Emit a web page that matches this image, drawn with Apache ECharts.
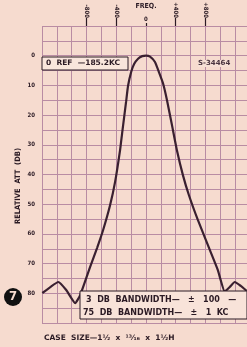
<!DOCTYPE html>
<html>
<head>
<meta charset="utf-8">
<script src="https://cdn.jsdelivr.net/npm/echarts@6/dist/echarts.min.js"></script>
<style>
  html, body { margin: 0; padding: 0; background: #f6dbcf; }
  #chart { width: 247px; height: 347px; }
</style>
</head>
<body>
<div id="chart"></div>
<script>
// frequency offset from 185.2 kc, in cycles
const freqTicks = [-800, -400, 400, 800]
const centerTick = [0]
const dbTicks = [0, 10, 20, 30, 40, 50, 60, 70, 80]

// response curve: [offset (c/s), relative att (dB)]
const responseLeft = [
  [-1396, 79.9], [-1288, 77.9], [-1181, 76.2], [-1074, 78.9], [-953, 83.3],
  [-886, 80.6], [-752, 71.1], [-658, 64.7], [-577, 58.7], [-483, 50.3],
  [-416, 42.5], [-349, 31.8], [-322, 26.2], [-268, 15.5], [-242, 10.2],
  [-200, 5.5], [-160, 2.8], [-107, 1.0], [-50, 0.15]
]
const responseRight = [
  [0, 0], [54, 0.3], [121, 2.1], [174, 5.5], [228, 9.2], [282, 14.9],
  [349, 23.3], [416, 31.8], [497, 40.2], [577, 46.9], [698, 55.3],
  [859, 65.4], [966, 72.1], [1060, 79.4], [1127, 77.9], [1195, 76.2],
  [1275, 77.5], [1356, 79.2]
]

const ink = '#2b1a24'
const gridCol = '#b98ca3'
const font = 'DejaVu Sans Condensed'
const wide = 'DejaVu Sans'

const chart = echarts.init(document.getElementById('chart'))

chart.setOption({
  backgroundColor: '#f6dbcf',
  animation: false,
  grid: { left: 42, top: 26, width: 208, height: 297, outerBoundsMode: 'none' },
  xAxis: [
    {
      type: 'value',
      position: 'top',
      min: -1400,
      max: 1400,
      interval: 200,
      name: 'FREQ.',
      nameLocation: 'middle',
      nameGap: 16,
      nameTextStyle: { color: ink, fontFamily: font, fontWeight: 'bold', fontSize: 7 },
      axisLine: { show: false },
      axisTick: { show: false },
      axisLabel: { show: false },
      splitLine: { show: true, lineStyle: { color: gridCol, width: 1 } }
    },
    {
      type: 'value',
      position: 'top',
      min: -1400,
      max: 1400,
      axisLine: { show: false },
      axisTick: { show: true, customValues: freqTicks, length: 8, lineStyle: { color: ink, width: 1.2 } },
      splitLine: { show: false },
      axisLabel: {
        customValues: freqTicks,
        rotate: 90,
        margin: 8,
        color: ink,
        fontFamily: font,
        fontWeight: 'bold',
        fontSize: 6,
        formatter: v => (v > 0 ? '+' + v : String(v))
      }
    },
    {
      type: 'value',
      position: 'top',
      min: -1400,
      max: 1400,
      axisLine: { show: false },
      axisTick: { show: true, customValues: centerTick, length: 3, lineStyle: { color: ink, width: 1.2 } },
      splitLine: { show: false },
      axisLabel: {
        customValues: centerTick,
        margin: 4,
        color: ink,
        fontFamily: font,
        fontWeight: 'bold',
        fontSize: 6
      }
    }
  ],
  yAxis: {
    type: 'value',
    inverse: true,
    min: -10,
    max: 90,
    interval: 5,
    axisLine: { show: false },
    axisTick: { show: false },
    axisLabel: {
      margin: 7,
      color: ink,
      fontFamily: font,
      fontWeight: 'bold',
      fontSize: 6,
      formatter: v => (dbTicks.includes(v) ? String(v) : '')
    },
    splitLine: { show: true, lineStyle: { color: gridCol, width: 1 } }
  },
  series: [
    {
      type: 'line',
      smooth: 0.15,
      symbol: 'none',
      data: responseLeft.concat(responseRight),
      lineStyle: { color: '#3a2030', width: 2.2 },
      z: 3
    }
  ],
  graphic: [
    {
      type: 'rect',
      shape: { x: 42, y: 57, width: 86, height: 13 },
      style: { fill: '#f9e6dc', stroke: ink, lineWidth: 1 },
      z: 10
    },
    {
      type: 'text',
      x: 46, y: 63.5,
      style: { text: '0  REF  —185.2KC', fill: ink, font: 'bold 7.5px ' + wide, verticalAlign: 'middle' },
      z: 11
    },
    {
      type: 'text',
      x: 198, y: 63.5,
      style: { text: 'S-34464', fill: '#4a3540', font: 'bold 7px ' + wide, verticalAlign: 'middle', backgroundColor: '#f6e0d6' },
      z: 11
    },
    {
      type: 'rect',
      shape: { x: 80, y: 291, width: 167, height: 28 },
      style: { fill: '#f8e3d9', stroke: ink, lineWidth: 1 },
      z: 10
    },
    {
      type: 'text',
      x: 86, y: 300,
      style: { text: '3  DB  BANDWIDTH—   ±   100   —', fill: ink, font: 'bold 8px ' + wide, verticalAlign: 'middle' },
      z: 11
    },
    {
      type: 'text',
      x: 83, y: 313,
      style: { text: '75  DB  BANDWIDTH—   ±   1  KC', fill: ink, font: 'bold 8px ' + wide, verticalAlign: 'middle' },
      z: 11
    },
    {
      type: 'text',
      x: 44, y: 338,
      style: { text: 'CASE  SIZE—1½  x  ¹³⁄₁₆  x  1½H', fill: ink, font: 'bold 7.5px ' + wide, verticalAlign: 'middle' },
      z: 11
    },
    {
      type: 'text',
      x: 18, y: 186,
      rotation: Math.PI / 2,
      style: { text: 'RELATIVE  ATT  (DB)', fill: ink, font: 'bold 7.5px ' + font, align: 'center', verticalAlign: 'middle' },
      z: 11
    },
    {
      type: 'circle',
      shape: { cx: 13, cy: 297, r: 9 },
      style: { fill: '#111' },
      z: 11
    },
    {
      type: 'text',
      x: 13, y: 297,
      style: { text: '7', fill: '#f6dbcf', font: 'bold 13px ' + font, align: 'center', verticalAlign: 'middle' },
      z: 12
    }
  ]
})
</script>
</body>
</html>
